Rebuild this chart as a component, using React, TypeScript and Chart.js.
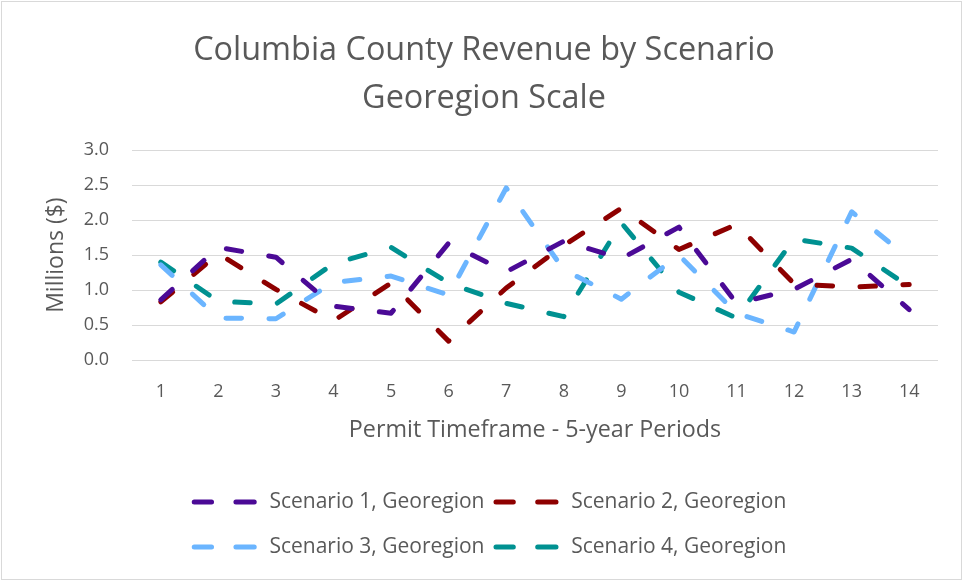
import { useEffect, useRef } from 'react';
import { Chart, registerables } from 'chart.js';

Chart.register(...registerables);

const categories = ['1', '2', '3', '4', '5', '6', '7', '8', '9', '10', '11', '12', '13', '14'];
const seriesNames = [
  'Scenario 1, Georegion',
  'Scenario 2, Georegion',
  'Scenario 3, Georegion',
  'Scenario 4, Georegion',
];
const scenario1 = [0.86, 1.61, 1.47, 0.77, 0.67, 1.67, 1.26, 1.70, 1.45, 1.90, 0.81, 1.01, 1.44, 0.72];
const scenario2 = [0.83, 1.52, 1.01, 0.56, 1.10, 0.27, 1.03, 1.64, 2.17, 1.58, 1.94, 1.09, 1.04, 1.08];
const scenario3 = [1.36, 0.60, 0.59, 1.11, 1.20, 0.93, 2.46, 1.29, 0.87, 1.50, 0.67, 0.40, 2.12, 1.45];
const scenario4 = [1.40, 0.84, 0.80, 1.38, 1.61, 1.10, 0.81, 0.62, 1.96, 0.97, 0.60, 1.73, 1.60, 1.05];

const chartTitle = ['Columbia County Revenue by Scenario', 'Georegion Scale'];
const xTitle = 'Permit Timeframe - 5-year Periods';
const yTitle = 'Millions ($)';

const COLORS = ['#4B0A96', '#8E0000', '#6BB5FF', '#009191'];
const FONT = '"Open Sans", Lato, sans-serif';
const TEXT = '#595959';
const GRID = '#D9D9D9';

const frameAndLegend = {
  id: 'frameAndLegend',
  beforeDraw(chart: any) {
    const { ctx, width, height } = chart;
    ctx.save();
    ctx.fillStyle = '#FFFFFF';
    ctx.fillRect(0, 0, width, height);
    ctx.strokeStyle = GRID;
    ctx.lineWidth = 1;
    ctx.strokeRect(1.5, 1.5, width - 4, height - 4);
    ctx.restore();
  },
  afterDraw(chart: any) {
    const { ctx, width, height } = chart;
    const ds = chart.data.datasets;
    ctx.save();
    ctx.font = `21px ${FONT}`;
    const colW = Math.max(...ds.map((d: any) => ctx.measureText(d.label).width));
    const sampleText = 77.7;
    const colGap = 9;
    const itemW = sampleText + colW;
    const totalW = itemW * 2 + colGap;
    const startX = width / 2 + 7 - totalW / 2;
    const rowsY = [height - 80, height - 35];
    ds.forEach((d: any, i: number) => {
      const x0 = startX + (i % 2) * (itemW + colGap);
      const y = rowsY[Math.floor(i / 2)];
      ctx.strokeStyle = d.borderColor;
      ctx.lineWidth = 5;
      ctx.lineCap = 'round';
      ctx.setLineDash([]);
      ctx.beginPath();
      ctx.moveTo(x0 + 2.5, y);
      ctx.lineTo(x0 + 19.8, y);
      ctx.moveTo(x0 + 44.2, y);
      ctx.lineTo(x0 + 62.5, y);
      ctx.stroke();
      ctx.fillStyle = TEXT;
      ctx.textBaseline = 'middle';
      ctx.textAlign = 'left';
      ctx.fillText(d.label, x0 + sampleText, y);
    });
    ctx.restore();
  },
};

export default function App() {
  const ref = useRef<HTMLCanvasElement | null>(null);

  useEffect(() => {
    if (!ref.current) return;
    const seriesValues = [scenario1, scenario2, scenario3, scenario4];
    const chart = new Chart(ref.current, {
      type: 'line',
      data: {
        labels: categories,
        datasets: seriesValues.map((vals, i) => ({
          label: seriesNames[i],
          data: vals,
          borderColor: COLORS[i],
          backgroundColor: COLORS[i],
          borderWidth: 5,
          borderDash: [15.5, 27.5],
          borderCapStyle: 'round' as const,
          borderJoinStyle: 'round' as const,
          pointRadius: 0,
          pointHoverRadius: 0,
          tension: 0,
          fill: false,
        })),
      },
      options: {
        responsive: false,
        animation: false,
        devicePixelRatio: 1,
        layout: { padding: { top: 0, left: 30, right: 26, bottom: 130 } },
        plugins: {
          legend: { display: false },
          tooltip: { enabled: false },
          title: {
            display: true,
            text: chartTitle,
            color: TEXT,
            font: { family: FONT, size: 32.4, weight: 'normal', lineHeight: 1.5 },
            padding: { top: 26, bottom: 27 },
          },
        },
        scales: {
          x: {
            offset: true,
            grid: { display: false, drawTicks: false },
            border: { display: false },
            ticks: {
              color: TEXT,
              font: { family: FONT, size: 18 },
              padding: 21,
              maxRotation: 0,
              autoSkip: false,
            },
            title: {
              display: true,
              text: xTitle,
              color: TEXT,
              font: { family: FONT, size: 23.3 },
              padding: { top: 0, bottom: 8 },
            },
            afterFit: (s: any) => {
              s.height = 92;
            },
          },
          y: {
            min: 0,
            max: 3,
            grid: { color: GRID, lineWidth: 1, drawTicks: false },
            border: { display: false },
            ticks: {
              stepSize: 0.5,
              color: TEXT,
              font: { family: FONT, size: 18 },
              padding: 23,
              callback: (v: any) => Number(v).toFixed(1),
            },
            title: {
              display: true,
              text: yTitle,
              color: TEXT,
              font: { family: FONT, size: 23 },
              padding: { top: 13, bottom: 0 },
            },
            afterFit: (s: any) => {
              s.width = 102;
            },
          },
        },
      },
      plugins: [frameAndLegend],
    });
    return () => chart.destroy();
  }, []);

  return (
    <div style={{ position: 'absolute', left: 0, top: 0, width: 964, height: 582, background: '#fff' }}>
      <canvas ref={ref} width={964} height={582} style={{ display: 'block' }} />
    </div>
  );
}
